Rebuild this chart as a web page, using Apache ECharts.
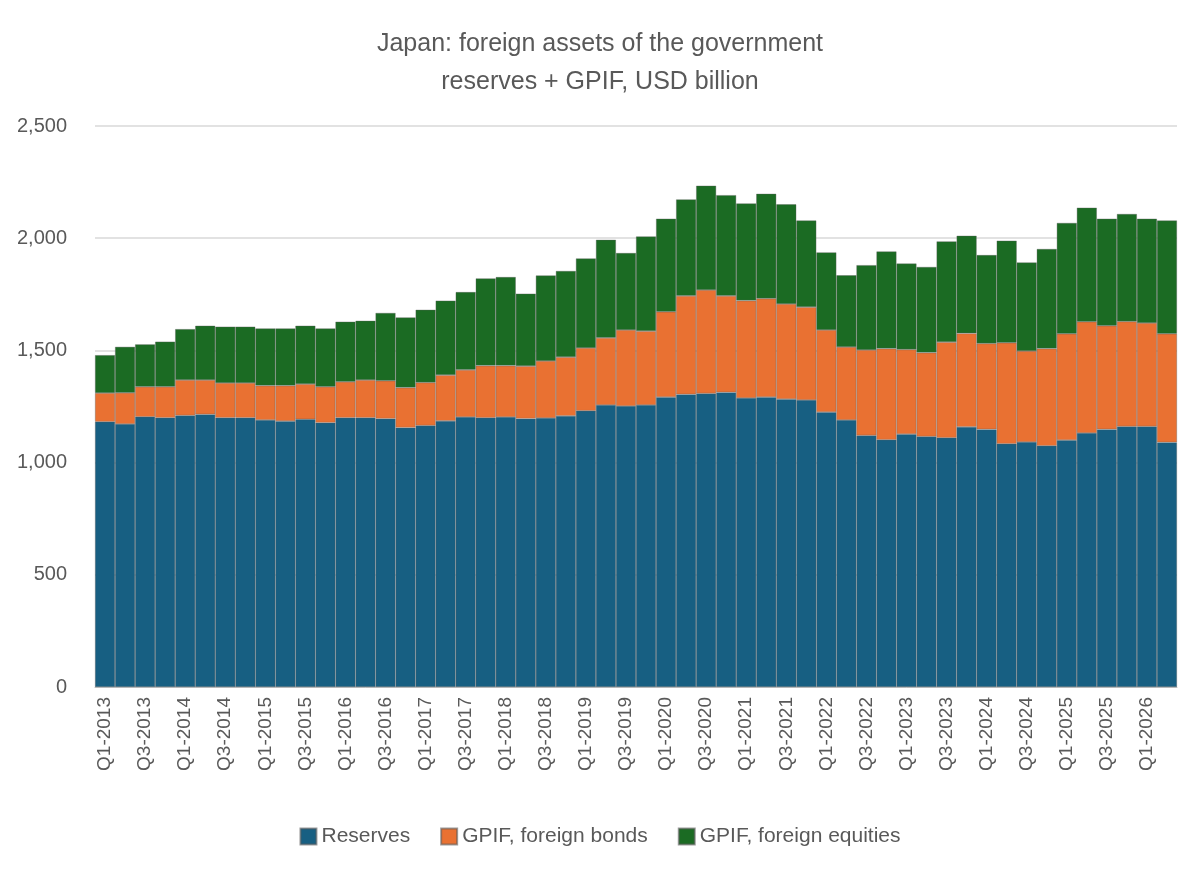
<!DOCTYPE html>
<html>
<head>
<meta charset="utf-8">
<script src="https://cdn.jsdelivr.net/npm/echarts@6/dist/echarts.min.js"></script>
<style>
  html, body { margin: 0; padding: 0; background: #fff; }
  #chart { width: 1200px; height: 872px; }
</style>
</head>
<body>
<div id="chart"></div>
<script>
  // quarters Q1-2013 .. Q2-2026
  const quarters = [];
  for (let y = 2013; y <= 2026; y++) {
    for (let q = 1; q <= 4; q++) {
      if (y === 2026 && q > 2) break;
      quarters.push('Q' + q + '-' + y);
    }
  }

  const reserves = [1182, 1172, 1204, 1200, 1210, 1215, 1200, 1200, 1190, 1185,
    1193, 1178, 1200, 1200, 1196, 1156, 1165, 1186, 1203, 1200,
    1203, 1196, 1199, 1208, 1231, 1257, 1252, 1257, 1292, 1304,
    1308, 1313, 1288, 1292, 1283, 1279, 1225, 1190, 1121, 1102,
    1127, 1116, 1111, 1159, 1148, 1084, 1092, 1075, 1100, 1132,
    1148, 1161, 1161, 1090];
  const gpifBonds = [128, 139, 134, 138, 158, 153, 155, 155, 153, 158,
    157, 160, 160, 168, 169, 178, 192, 204, 210, 232,
    229, 234, 254, 262, 280, 299, 339, 329, 380, 439,
    461, 430, 434, 439, 424, 414, 366, 325, 381, 406,
    377, 374, 426, 417, 383, 450, 405, 433, 474, 496,
    462, 468, 461, 484];
  const gpifEquities = [169, 205, 189, 201, 227, 242, 251, 251, 255, 255,
    260, 260, 268, 264, 302, 313, 324, 332, 347, 389,
    395, 323, 381, 384, 399, 437, 343, 422, 415, 430,
    465, 449, 433, 467, 444, 386, 346, 320, 378, 433,
    383, 382, 449, 435, 394, 455, 395, 444, 494, 508,
    477, 479, 465, 505];

  const chart = echarts.init(document.getElementById('chart'));
  const FONT = 'Liberation Sans, Arial, sans-serif';
  const TXT = '#595959';

  const mk = (name, data, color) => ({
    name, type: 'bar', stack: 'total', data,
    barCategoryGap: 0,
    itemStyle: { color, borderColor: 'rgba(90,90,90,0.6)', borderWidth: 0.6 },
  });

  chart.setOption({
    animation: false,
    textStyle: { fontFamily: FONT },
    title: {
      text: 'Japan: foreign assets of the government\nreserves + GPIF, USD billion',
      left: 'center', top: 20,
      textStyle: { color: TXT, fontSize: 25, fontWeight: 'normal', lineHeight: 38, fontFamily: FONT },
    },
    grid: { left: 95, right: 23, top: 126, bottom: 185 },
    legend: {
      bottom: 20, left: 'center', itemWidth: 16, itemHeight: 16, itemGap: 30,
      icon: 'rect',
      textStyle: { color: TXT, fontSize: 21, fontFamily: FONT },
    },
    xAxis: {
      type: 'category', data: quarters,
      axisLine: { lineStyle: { color: '#bfbfbf' } },
      axisTick: { show: false },
      axisLabel: { interval: 1, rotate: 90, color: TXT, fontSize: 19, margin: 10 },
    },
    yAxis: {
      type: 'value', min: 0, max: 2500, interval: 500,
      axisLine: { show: false }, axisTick: { show: false },
      axisLabel: { color: TXT, fontSize: 20, margin: 28 },
      splitLine: { lineStyle: { color: '#d9d9d9', width: 1.5 } },
    },
    series: [
      mk('Reserves', reserves, '#175f82'),
      mk('GPIF, foreign bonds', gpifBonds, '#e97132'),
      mk('GPIF, foreign equities', gpifEquities, '#1b6b23'),
    ],
  });
</script>
</body>
</html>
